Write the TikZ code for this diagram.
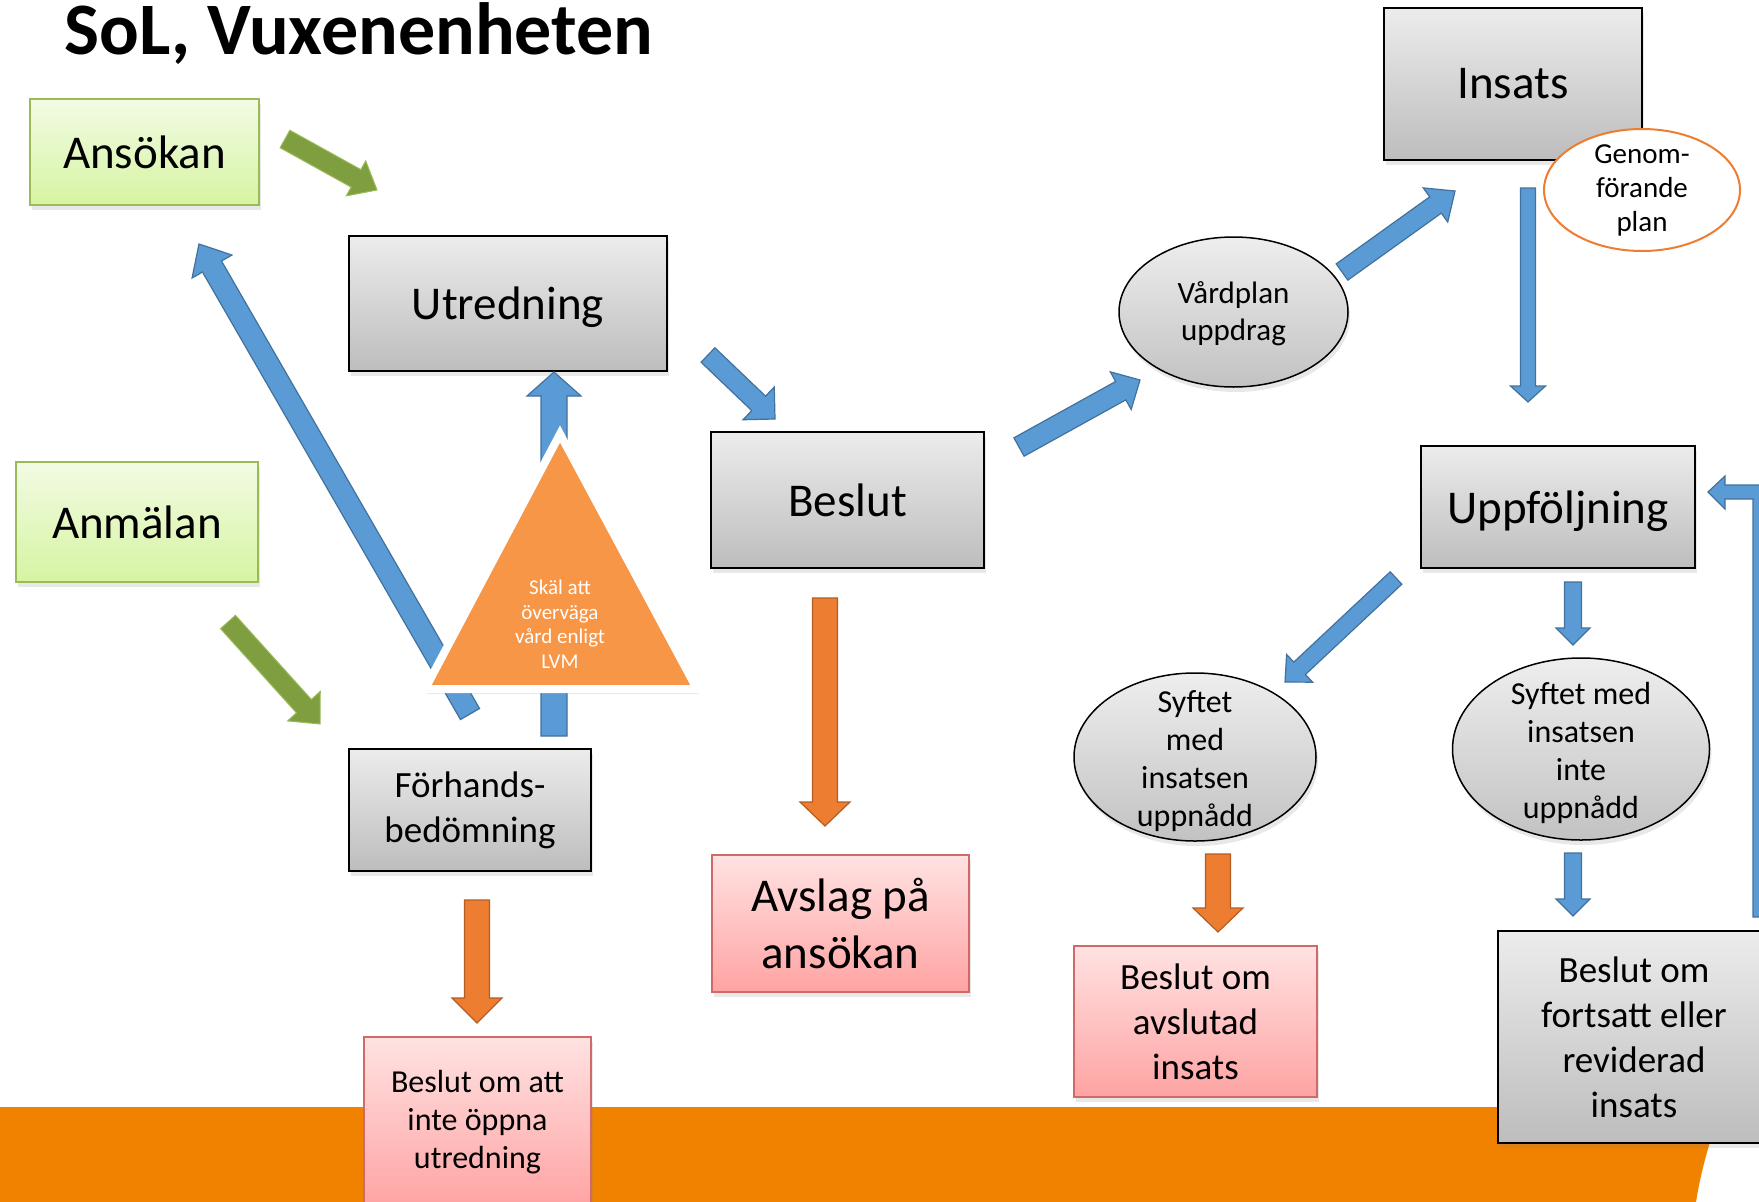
\documentclass[tikz,border=0pt]{standalone}
\usepackage{fontspec}
\setmainfont{Carlito}
\usetikzlibrary{calc,shapes.geometric,shadows}
\definecolor{bfill}{HTML}{5B9BD5}
\definecolor{bline}{HTML}{41719C}
\definecolor{ofill}{HTML}{ED7D31}
\definecolor{oline}{HTML}{B35D22}
\definecolor{gfill}{HTML}{7E9E40}
\definecolor{gline}{HTML}{9BBB59}
\definecolor{trifill}{HTML}{F79646}
\definecolor{bandfill}{HTML}{F08200}
\definecolor{pline}{HTML}{D06A68}
\tikzset{
  fbig/.style={font=\fontsize{47}{57}\selectfont},
  fmid/.style={font=\fontsize{37}{45}\selectfont},
  fsmall/.style={font=\fontsize{32}{38}\selectfont},
  dshadow/.style={drop shadow={shadow xshift=2pt,shadow yshift=-5pt,opacity=0.18}},
  gbox/.style={rectangle, draw=black, line width=2pt, top color={rgb,255:red,236;green,236;blue,236}, bottom color={rgb,255:red,189;green,189;blue,189}, inner sep=0pt, align=center, dshadow},
  grbox/.style={rectangle, draw=gline, line width=1.5pt, top color={rgb,255:red,242;green,251;blue,228}, bottom color={rgb,255:red,214;green,244;blue,162}, inner sep=0pt, align=center, dshadow},
  pbox/.style={rectangle, draw=pline, line width=1.5pt, top color={rgb,255:red,255;green,226;blue,226}, bottom color={rgb,255:red,255;green,163;blue,163}, inner sep=0pt, align=center, dshadow},
  goval/.style={ellipse, draw=black, line width=1.5pt, top color={rgb,255:red,238;green,238;blue,238}, bottom color={rgb,255:red,194;green,194;blue,194}, inner sep=0pt, align=center, dshadow},
  barrow/.style={fill=bfill, draw=bline, line width=1.2pt, line join=miter},
  oarrow/.style={fill=ofill, draw=oline, line width=1.2pt, line join=miter},
  garrow/.style={fill=gfill, draw=gline, line width=1pt, line join=miter}
}
\newcommand{\BoxGray}[3][]{\node[gbox,#1] (#2) {#3};}
\newcommand{\BoxGreen}[3][]{\node[grbox,#1] (#2) {#3};}
\newcommand{\BoxPink}[3][]{\node[pbox,#1] (#2) {#3};}
\newcommand{\OvalGray}[3][]{\node[goval,#1] (#2) {#3};}
\newcommand{\BlockArrow}[6][]{%
  \coordinate (hb) at ($(#3)!#6!(#2)$);
  \filldraw[#1] ($(#2)!#4!90:(#3)$) -- ($(hb)!#4!90:(#3)$) -- ($(hb)!#5!90:(#3)$) -- (#3)
    -- ($(hb)!#5!-90:(#3)$) -- ($(hb)!#4!-90:(#3)$) -- ($(#2)!#4!-90:(#3)$) -- cycle;}

\begin{document}
\begin{tikzpicture}[x=1pt,y=-1pt]
\clip (0,0) rectangle (1759,1202);
\fill[bandfill] (0,1107) -- (1721,1107) .. controls (1710,1140) and (1701,1170) .. (1696,1202) -- (0,1202) -- cycle;

\node[anchor=base west, font=\fontsize{74}{86}\selectfont\bfseries] (H) at (61,54) {SoL, Vuxenenheten};

\BoxGreen[at={(144.5,152)}, minimum width=229, minimum height=106, fbig]{A}{Ansökan}
\BoxGreen[at={(137,522)}, minimum width=242, minimum height=120, fbig]{N}{Anmälan}
\BoxGray[at={(508,303.5)}, minimum width=318, minimum height=135, fbig, text depth=0pt]{U}{Utredning}
\BoxGray[at={(470,810)}, minimum width=242, minimum height=122, fmid]{F}{Förhands-\\bedömning}
\BoxGray[at={(847.5,500)}, minimum width=273, minimum height=136, fbig]{B}{Beslut}
\OvalGray[at={(1233.5,312)}, minimum width=229, minimum height=150, label={[font=\fontsize{31}{37}\selectfont, align=center, yshift=-2pt]center:Vårdplan\\uppdrag}]{V}{}
\BoxGray[at={(1513,84)}, minimum width=258, minimum height=152, fbig]{I}{Insats}
\node[ellipse, draw=ofill, line width=2pt, fill=white, minimum width=196, minimum height=122, inner sep=0pt, label={[font=\fontsize{29}{34}\selectfont, align=center]center:Genom-\\förande\\plan}] (G) at (1642,190) {};
\BoxGray[at={(1558,507)}, minimum width=274, minimum height=122, fbig, text depth=0pt]{P}{Uppföljning}
\OvalGray[at={(1195,757)}, minimum width=242, minimum height=168, label={[fsmall, align=center, yshift=-4pt]center:Syftet\\med\\insatsen\\uppnådd}]{S}{}
\OvalGray[at={(1581,749)}, minimum width=257, minimum height=182, label={[fsmall, align=center, yshift=-4pt]center:Syftet med\\insatsen\\inte\\uppnådd}]{T}{}
\BoxPink[at={(840.5,923.5)}, minimum width=257, minimum height=137, fbig]{R}{Avslag på\\ansökan}
\BoxPink[at={(477.5,1122)}, minimum width=227, minimum height=170, fsmall]{E}{Beslut om att\\inte öppna\\utredning}
\BoxPink[at={(1195.5,1021.5)}, minimum width=243, minimum height=151, fmid]{K}{Beslut om\\avslutad\\insats}
\BoxGray[at={(1634,1037)}, minimum width=272, minimum height=212, fmid]{L}{Beslut om\\fortsatt eller\\reviderad\\insats}

\coordinate (a1) at (285,139);  \coordinate (a2) at (377,190);
\coordinate (n1) at (228,622);  \coordinate (n2) at (320,724);
\coordinate (f1) at (470,714);  \coordinate (f2) at (199,244);
\coordinate (f3) at (554,736);  \coordinate (f4) at (554,372);
\coordinate (u1) at (708,355);  \coordinate (u2) at (775,419);
\coordinate (b1) at (1019,447); \coordinate (b2) at (1140,380);
\coordinate (v1) at (1342,272); \coordinate (v2) at (1455,191);
\coordinate (i1) at (1528,188); \coordinate (i2) at (1528,402);
\coordinate (p1) at (1396,578); \coordinate (p2) at (1285,682);
\coordinate (p3) at (1573,582); \coordinate (p4) at (1573,645);
\coordinate (t1) at (1573,853); \coordinate (t2) at (1573,916);
\coordinate (b3) at (825,598);  \coordinate (b4) at (825,826);
\coordinate (f5) at (477,900);  \coordinate (f6) at (477,1023);
\coordinate (s1) at (1218,854); \coordinate (s2) at (1218,932);

\BlockArrow[garrow]{a1}{a2}{10pt}{20pt}{24pt}
\BlockArrow[garrow]{n1}{n2}{10pt}{22pt}{24pt}
\BlockArrow[barrow]{f1}{f2}{11pt}{23pt}{26pt}
\BlockArrow[barrow]{f3}{f4}{13pt}{27pt}{24pt}
\BlockArrow[barrow]{u1}{u2}{10pt}{22.6pt}{22.6pt}
\BlockArrow[barrow]{b1}{b2}{10.5pt}{21.5pt}{22pt}
\BlockArrow[barrow]{v1}{v2}{10pt}{21pt}{24pt}
\BlockArrow[barrow]{i1}{i2}{7.5pt}{17.5pt}{16pt}
\BlockArrow[barrow]{p1}{p2}{8.5pt}{19pt}{20pt}
\BlockArrow[barrow]{p3}{p4}{8.5pt}{17pt}{17pt}
\BlockArrow[barrow]{t1}{t2}{8.5pt}{17pt}{17pt}
\BlockArrow[oarrow]{b3}{b4}{12.5pt}{25pt}{24pt}
\BlockArrow[oarrow]{f5}{f6}{12.5pt}{25pt}{25pt}
\BlockArrow[oarrow]{s1}{s2}{12.5pt}{25pt}{24pt}
\filldraw[barrow] (1753,917) -- (1753,499) -- (1725,499) -- (1725,509) -- (1708,492) -- (1725,476) -- (1725,485) -- (1767,485) -- (1767,917) -- cycle;

\filldraw[fill=trifill, draw=white, line width=8pt, line join=miter, dshadow] (560,434) -- (697,689) -- (425,689) -- cycle;
\node[text=white, align=center, font=\fontsize{21}{24.5}\selectfont] (Q) at (560,624) {Skäl att\\överväga\\vård enligt\\LVM};

\end{tikzpicture}
\end{document}
